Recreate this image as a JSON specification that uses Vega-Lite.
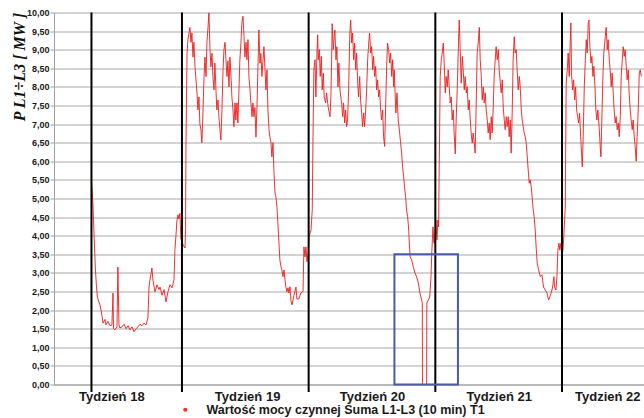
{
"$schema":"https://vega.github.io/schema/vega-lite/v6.json",
"width":590,"height":372,
"autosize":{"type":"none"},
"padding":{"left":54,"top":12.5,"right":0,"bottom":33.5},
"background":"white",
"config":{"view":{"stroke":null},"font":"Liberation Sans",
 "axisX":{"ticks":false,"grid":false,"domainColor":"#a0a0a0","domainWidth":1,"labelFont":"Liberation Sans","labelFontWeight":"bold","labelFontSize":13,"labelColor":"#1a1a1a","labelPadding":6,"labelFlush":false,"labelOverlap":false,"labelBound":false},
 "axisY":{"grid":true,"gridColor":"#a8a8a8","gridWidth":1.2,"domainColor":"#a0a0a0","tickColor":"#a0a0a0","tickSize":4,"labelPadding":1,"labelFont":"Liberation Sans","labelFontSize":9,"labelFontWeight":"bold","labelColor":"#1a1a1a","labelOverlap":false,"labelFlush":false,"titleFont":"Liberation Serif","titleFontStyle":"italic","titleFontWeight":"bold","titleFontSize":16,"titleColor":"#111111","titleAnchor":"end","titleX":-35,"titleY":0,"titleAngle":-90,"titleBaseline":"middle"}},
"datasets":{
"power":[
{"d":2.0,"v":5.45},{"d":2.08,"v":4.88},{"d":2.14,"v":4.07},{"d":2.22,"v":3.08},{"d":2.28,"v":2.62},{"d":2.33,"v":2.35},{"d":2.41,"v":2.22},{"d":2.47,"v":2.14},{"d":2.55,"v":1.95},{"d":2.64,"v":1.65},{"d":2.75,"v":1.75},{"d":2.80,"v":1.6},{"d":2.91,"v":1.7},{"d":3.02,"v":1.58},{"d":3.13,"v":1.6},{"d":3.19,"v":2.46},{"d":3.22,"v":1.5},{"d":3.30,"v":1.47},{"d":3.41,"v":1.55},{"d":3.46,"v":3.16},{"d":3.52,"v":1.6},{"d":3.57,"v":1.52},{"d":3.69,"v":1.55},{"d":3.80,"v":1.62},{"d":3.91,"v":1.5},{"d":4.02,"v":1.58},{"d":4.13,"v":1.47},{"d":4.24,"v":1.55},{"d":4.35,"v":1.42},{"d":4.46,"v":1.5},{"d":4.57,"v":1.55},{"d":4.68,"v":1.62},{"d":4.79,"v":1.58},{"d":4.90,"v":1.65},{"d":5.01,"v":1.6},{"d":5.12,"v":1.79},{"d":5.18,"v":2.62},{"d":5.23,"v":2.8},{"d":5.34,"v":3.13},{"d":5.40,"v":2.8},{"d":5.51,"v":2.49},{"d":5.62,"v":2.68},{"d":5.73,"v":2.55},{"d":5.79,"v":2.62},{"d":5.90,"v":2.4},{"d":6.01,"v":2.55},{"d":6.12,"v":2.22},{"d":6.23,"v":2.5},{"d":6.34,"v":2.68},{"d":6.45,"v":2.6},{"d":6.56,"v":2.8},{"d":6.61,"v":3.62},{"d":6.67,"v":4.0},{"d":6.72,"v":4.4},{"d":6.78,"v":4.56},{"d":6.83,"v":4.45},{"d":6.89,"v":4.6},{"d":6.94,"v":3.9},
{"d":7.0,"v":3.9},{"d":7.06,"v":3.75},{"d":7.17,"v":3.67},{"d":7.2,"v":4.2},{"d":7.22,"v":6.3},{"d":7.28,"v":8.9},{"d":7.33,"v":9.27},{"d":7.44,"v":9.6},{"d":7.50,"v":9.2},{"d":7.55,"v":9.45},{"d":7.61,"v":8.8},{"d":7.66,"v":9.2},{"d":7.72,"v":8.54},{"d":7.83,"v":7.84},{"d":7.88,"v":7.38},{"d":7.94,"v":7.73},{"d":7.99,"v":7.0},{"d":8.05,"v":6.84},{"d":8.10,"v":6.5},{"d":8.16,"v":7.3},{"d":8.22,"v":8.28},{"d":8.27,"v":8.8},{"d":8.33,"v":8.28},{"d":8.38,"v":9.2},{"d":8.44,"v":9.6},{"d":8.49,"v":9.99},{"d":8.55,"v":9.0},{"d":8.60,"v":8.54},{"d":8.66,"v":8.9},{"d":8.71,"v":8.28},{"d":8.77,"v":7.92},{"d":8.82,"v":8.64},{"d":8.88,"v":7.9},{"d":8.93,"v":7.38},{"d":8.99,"v":7.65},{"d":9.04,"v":7.2},{"d":9.10,"v":6.85},{"d":9.15,"v":6.57},{"d":9.21,"v":7.38},{"d":9.27,"v":8.46},{"d":9.32,"v":9.0},{"d":9.38,"v":9.2},{"d":9.43,"v":8.73},{"d":9.49,"v":8.28},{"d":9.54,"v":8.7},{"d":9.60,"v":8.0},{"d":9.65,"v":8.8},{"d":9.71,"v":8.28},{"d":9.76,"v":7.73},{"d":9.82,"v":7.38},{"d":9.87,"v":6.93},{"d":9.93,"v":7.57},{"d":9.98,"v":7.11},{"d":10.04,"v":7.57},{"d":10.09,"v":7.03},{"d":10.15,"v":7.92},{"d":10.20,"v":8.73},{"d":10.26,"v":9.18},{"d":10.31,"v":9.72},{"d":10.37,"v":9.9},{"d":10.43,"v":9.35},{"d":10.48,"v":8.8},{"d":10.54,"v":9.2},{"d":10.59,"v":8.73},{"d":10.65,"v":9.27},{"d":10.70,"v":8.28},{"d":10.76,"v":7.92},{"d":10.81,"v":7.57},{"d":10.87,"v":7.2},{"d":10.92,"v":7.57},{"d":10.98,"v":7.2},{"d":11.03,"v":7.45},{"d":11.09,"v":6.65},{"d":11.14,"v":7.38},{"d":11.20,"v":8.54},{"d":11.25,"v":9.53},{"d":11.31,"v":8.64},{"d":11.36,"v":8.9},{"d":11.42,"v":8.28},{"d":11.48,"v":8.73},{"d":11.53,"v":9.08},{"d":11.59,"v":8.46},{"d":11.64,"v":7.92},{"d":11.70,"v":8.46},{"d":11.75,"v":7.38},{"d":11.81,"v":6.85},{"d":11.86,"v":6.65},{"d":11.92,"v":6.5},{"d":11.97,"v":6.12},{"d":12.03,"v":6.5},{"d":12.08,"v":5.77},{"d":12.14,"v":5.15},{"d":12.19,"v":5.05},{"d":12.25,"v":4.77},{"d":12.30,"v":4.34},{"d":12.36,"v":3.8},{"d":12.41,"v":3.35},{"d":12.47,"v":3.17},{"d":12.52,"v":3.08},{"d":12.58,"v":2.9},{"d":12.64,"v":3.08},{"d":12.69,"v":2.82},{"d":12.75,"v":2.6},{"d":12.80,"v":2.49},{"d":12.86,"v":2.6},{"d":12.91,"v":2.46},{"d":12.97,"v":2.63},{"d":13.02,"v":2.27},{"d":13.08,"v":2.14},{"d":13.19,"v":2.4},{"d":13.30,"v":2.62},{"d":13.35,"v":2.3},{"d":13.46,"v":2.3},{"d":13.57,"v":2.46},{"d":13.69,"v":2.5},{"d":13.74,"v":3.7},{"d":13.80,"v":3.43},{"d":13.85,"v":3.7},{"d":13.91,"v":3.3},{"d":13.96,"v":3.5},
{"d":14.02,"v":3.97},{"d":14.13,"v":4.15},{"d":14.20,"v":4.69},{"d":14.24,"v":6.66},{"d":14.29,"v":8.46},{"d":14.35,"v":8.73},{"d":14.40,"v":7.73},{"d":14.46,"v":8.91},{"d":14.50,"v":9.4},{"d":14.53,"v":8.73},{"d":14.59,"v":9.0},{"d":14.64,"v":8.28},{"d":14.70,"v":8.82},{"d":14.75,"v":7.92},{"d":14.81,"v":8.37},{"d":14.86,"v":7.73},{"d":14.94,"v":7.57},{"d":14.99,"v":7.84},{"d":15.08,"v":7.46},{"d":15.18,"v":7.2},{"d":15.23,"v":7.73},{"d":15.27,"v":8.73},{"d":15.30,"v":9.7},{"d":15.36,"v":9.0},{"d":15.41,"v":9.35},{"d":15.45,"v":9.53},{"d":15.51,"v":8.73},{"d":15.56,"v":9.08},{"d":15.62,"v":8.0},{"d":15.67,"v":8.64},{"d":15.73,"v":7.92},{"d":15.82,"v":7.57},{"d":15.88,"v":7.2},{"d":15.93,"v":7.57},{"d":15.99,"v":7.03},{"d":16.04,"v":7.38},{"d":16.10,"v":6.93},{"d":16.15,"v":7.11},{"d":16.21,"v":7.92},{"d":16.27,"v":9.35},{"d":16.32,"v":9.8},{"d":16.38,"v":9.18},{"d":16.43,"v":9.45},{"d":16.49,"v":8.73},{"d":16.54,"v":9.18},{"d":16.60,"v":8.46},{"d":16.65,"v":8.91},{"d":16.71,"v":8.1},{"d":16.76,"v":7.73},{"d":16.82,"v":8.28},{"d":16.87,"v":7.65},{"d":16.93,"v":7.3},{"d":16.98,"v":6.93},{"d":17.04,"v":7.3},{"d":17.09,"v":6.93},{"d":17.15,"v":7.38},{"d":17.20,"v":7.84},{"d":17.26,"v":8.73},{"d":17.32,"v":9.18},{"d":17.37,"v":9.45},{"d":17.43,"v":8.91},{"d":17.48,"v":9.08},{"d":17.54,"v":8.46},{"d":17.59,"v":8.82},{"d":17.65,"v":8.28},{"d":17.70,"v":8.55},{"d":17.76,"v":7.92},{"d":17.81,"v":8.19},{"d":17.87,"v":7.73},{"d":17.92,"v":7.92},{"d":17.98,"v":7.38},{"d":18.03,"v":7.11},{"d":18.09,"v":7.38},{"d":18.14,"v":6.66},{"d":18.20,"v":6.4},{"d":18.25,"v":7.38},{"d":18.31,"v":8.55},{"d":18.36,"v":9.18},{"d":18.42,"v":9.0},{"d":18.48,"v":8.64},{"d":18.53,"v":8.91},{"d":18.59,"v":8.28},{"d":18.64,"v":8.73},{"d":18.70,"v":8.0},{"d":18.73,"v":8.46},{"d":18.77,"v":7.92},{"d":18.82,"v":7.3},{"d":18.88,"v":7.84},{"d":18.95,"v":7.11},{"d":19.03,"v":6.76},{"d":19.08,"v":6.49},{"d":19.14,"v":6.22},{"d":19.19,"v":5.85},{"d":19.25,"v":5.58},{"d":19.30,"v":5.31},{"d":19.36,"v":5.04},{"d":19.41,"v":4.69},{"d":19.47,"v":4.51},{"d":19.53,"v":4.15},{"d":19.56,"v":3.8},{"d":19.61,"v":3.43},{"d":19.69,"v":3.35},{"d":19.78,"v":3.17},{"d":19.87,"v":3.0},{"d":19.97,"v":2.89},{"d":20.06,"v":2.73},{"d":20.15,"v":2.46},{"d":20.24,"v":2.27},{"d":20.28,"v":2.2},{"d":20.29,"v":0},{"d":20.52,"v":0},{"d":20.53,"v":2.19},{"d":20.61,"v":2.27},{"d":20.69,"v":2.35},{"d":20.76,"v":2.89},{"d":20.81,"v":3.61},{"d":20.87,"v":4.24},{"d":20.92,"v":3.8},
{"d":20.96,"v":3.8},{"d":21.03,"v":4.42},{"d":21.09,"v":3.89},{"d":21.14,"v":4.42},{"d":21.18,"v":4.24},{"d":21.22,"v":6.04},{"d":21.27,"v":8.28},{"d":21.33,"v":8.73},{"d":21.38,"v":8.91},{"d":21.44,"v":9.18},{"d":21.49,"v":8.64},{"d":21.55,"v":7.84},{"d":21.60,"v":8.28},{"d":21.66,"v":8.0},{"d":21.71,"v":8.46},{"d":21.77,"v":8.0},{"d":21.82,"v":7.57},{"d":21.88,"v":7.73},{"d":21.93,"v":7.11},{"d":21.99,"v":7.38},{"d":22.04,"v":6.76},{"d":22.10,"v":6.2},{"d":22.15,"v":7.11},{"d":22.21,"v":7.92},{"d":22.27,"v":9.0},{"d":22.32,"v":9.8},{"d":22.38,"v":8.91},{"d":22.43,"v":8.1},{"d":22.49,"v":8.82},{"d":22.54,"v":8.46},{"d":22.60,"v":7.92},{"d":22.65,"v":8.28},{"d":22.71,"v":7.84},{"d":22.76,"v":8.0},{"d":22.82,"v":7.38},{"d":22.87,"v":7.65},{"d":22.93,"v":7.11},{"d":22.98,"v":6.76},{"d":23.04,"v":6.49},{"d":23.09,"v":6.76},{"d":23.15,"v":6.49},{"d":23.20,"v":6.22},{"d":23.26,"v":7.57},{"d":23.31,"v":8.91},{"d":23.37,"v":9.18},{"d":23.43,"v":9.6},{"d":23.48,"v":8.73},{"d":23.54,"v":8.28},{"d":23.59,"v":7.65},{"d":23.65,"v":8.0},{"d":23.70,"v":7.57},{"d":23.76,"v":7.84},{"d":23.81,"v":7.38},{"d":23.87,"v":7.11},{"d":23.92,"v":6.76},{"d":23.98,"v":7.03},{"d":24.03,"v":6.58},{"d":24.09,"v":7.2},{"d":24.14,"v":6.76},{"d":24.20,"v":7.46},{"d":24.25,"v":8.28},{"d":24.31,"v":8.73},{"d":24.36,"v":9.08},{"d":24.42,"v":8.73},{"d":24.48,"v":9.0},{"d":24.53,"v":8.46},{"d":24.59,"v":8.1},{"d":24.64,"v":7.84},{"d":24.70,"v":8.19},{"d":24.75,"v":7.46},{"d":24.81,"v":7.11},{"d":24.86,"v":6.85},{"d":24.92,"v":7.2},{"d":24.97,"v":6.93},{"d":25.03,"v":7.2},{"d":25.08,"v":6.66},{"d":25.14,"v":7.11},{"d":25.19,"v":6.22},{"d":25.25,"v":7.38},{"d":25.30,"v":8.73},{"d":25.36,"v":9.35},{"d":25.41,"v":8.91},{"d":25.47,"v":9.0},{"d":25.52,"v":8.46},{"d":25.58,"v":7.92},{"d":25.64,"v":8.28},{"d":25.69,"v":8.0},{"d":25.75,"v":7.38},{"d":25.80,"v":7.11},{"d":25.86,"v":6.93},{"d":25.91,"v":6.76},{"d":25.97,"v":6.66},{"d":26.02,"v":6.49},{"d":26.08,"v":6.12},{"d":26.13,"v":5.77},{"d":26.19,"v":5.41},{"d":26.24,"v":5.5},{"d":26.30,"v":5.31},{"d":26.35,"v":5.04},{"d":26.41,"v":4.69},{"d":26.46,"v":4.51},{"d":26.52,"v":4.15},{"d":26.57,"v":3.7},{"d":26.63,"v":3.26},{"d":26.71,"v":3.08},{"d":26.80,"v":2.9},{"d":26.89,"v":2.95},{"d":26.98,"v":2.62},{"d":27.07,"v":2.54},{"d":27.17,"v":2.46},{"d":27.26,"v":2.27},{"d":27.32,"v":2.35},{"d":27.40,"v":2.46},{"d":27.48,"v":2.62},{"d":27.55,"v":2.9},{"d":27.59,"v":2.62},{"d":27.66,"v":2.54},{"d":27.72,"v":2.9},{"d":27.77,"v":3.61},{"d":27.83,"v":3.8},{"d":27.88,"v":3.61},{"d":27.94,"v":3.8},{"d":28.01,"v":3.52},
{"d":28.05,"v":3.6},{"d":28.10,"v":4.0},{"d":28.18,"v":4.77},{"d":28.23,"v":8.1},{"d":28.29,"v":8.46},{"d":28.34,"v":8.91},{"d":28.40,"v":8.28},{"d":28.45,"v":9.18},{"d":28.49,"v":9.72},{"d":28.53,"v":8.28},{"d":28.59,"v":7.92},{"d":28.64,"v":8.19},{"d":28.70,"v":7.65},{"d":28.75,"v":8.0},{"d":28.81,"v":7.38},{"d":28.86,"v":7.2},{"d":28.92,"v":7.03},{"d":28.97,"v":7.3},{"d":29.03,"v":6.66},{"d":29.08,"v":6.22},{"d":29.12,"v":5.85},{"d":29.17,"v":6.66},{"d":29.23,"v":8.0},{"d":29.28,"v":8.64},{"d":29.34,"v":9.27},{"d":29.39,"v":8.91},{"d":29.45,"v":9.72},{"d":29.49,"v":9.8},{"d":29.54,"v":9.08},{"d":29.60,"v":8.64},{"d":29.65,"v":8.82},{"d":29.71,"v":8.28},{"d":29.76,"v":8.55},{"d":29.82,"v":8.0},{"d":29.87,"v":7.38},{"d":29.93,"v":7.11},{"d":29.98,"v":7.38},{"d":30.06,"v":6.85},{"d":30.11,"v":6.4},{"d":30.15,"v":6.12},{"d":30.20,"v":7.11},{"d":30.26,"v":8.28},{"d":30.31,"v":8.91},{"d":30.39,"v":9.35},{"d":30.44,"v":9.6},{"d":30.50,"v":9.0},{"d":30.55,"v":9.27},{"d":30.61,"v":8.73},{"d":30.66,"v":8.46},{"d":30.72,"v":8.0},{"d":30.77,"v":8.37},{"d":30.83,"v":7.84},{"d":30.88,"v":7.38},{"d":30.94,"v":7.03},{"d":30.99,"v":7.2},{"d":31.05,"v":6.85},{"d":31.11,"v":7.03},{"d":31.16,"v":6.66},{"d":31.22,"v":7.2},{"d":31.27,"v":8.28},{"d":31.33,"v":8.73},{"d":31.38,"v":9.08},{"d":31.44,"v":8.82},{"d":31.49,"v":9.0},{"d":31.55,"v":8.55},{"d":31.60,"v":8.19},{"d":31.66,"v":8.46},{"d":31.71,"v":7.84},{"d":31.77,"v":7.38},{"d":31.82,"v":7.11},{"d":31.88,"v":6.85},{"d":31.93,"v":7.11},{"d":31.99,"v":6.66},{"d":32.04,"v":6.4},{"d":32.10,"v":6.0},{"d":32.15,"v":6.66},{"d":32.21,"v":7.38},{"d":32.27,"v":8.37},{"d":32.32,"v":8.46},{"d":32.38,"v":8.28}
],
"weeks":[{"d":2},{"d":7},{"d":14},{"d":21},{"d":28}],
"box":[{"d":18.74,"d2":22.25,"v":0,"v2":3.5}]
},
"layer":[
{"data":{"name":"power"},
 "mark":{"type":"line","strokeWidth":1,"clip":true,"opacity":0.9},
 "encoding":{
  "x":{"field":"d","type":"quantitative","scale":{"domain":[-0.07,32.53],"nice":false,"zero":false},
   "axis":{"values":[3.1,10.6,17.5,24.5,30.5],"labelExpr":"datum.value < 7 ? 'Tydzień 18' : datum.value < 14 ? 'Tydzień 19' : datum.value < 21 ? 'Tydzień 20' : datum.value < 28 ? 'Tydzień 21' : 'Tydzień 22'","title":null}},
  "y":{"field":"v","type":"quantitative","scale":{"domain":[0,10],"nice":false,"zero":false},
   "axis":{"values":[0,0.5,1,1.5,2,2.5,3,3.5,4,4.5,5,5.5,6,6.5,7,7.5,8,8.5,9,9.5,10],"labelExpr":"replace(format(datum.value,'.2f'),'.',',')","title":"P L1÷L3 [ MW ]"}},
  "color":{"datum":"Wartość mocy czynnej Suma L1-L3 (10 min) T1","type":"nominal","scale":{"range":["#ee1c1c"]},
   "legend":{"orient":"none","legendX":125,"legendY":391,"title":null,"padding":0,"symbolType":"circle","symbolSize":18,"symbolFillColor":"#ee1c1c","symbolStrokeColor":"#ee1c1c","symbolStrokeWidth":0,"labelOffset":15,"labelLimit":500,"labelFont":"Liberation Sans","labelFontSize":12.5,"labelFontWeight":"bold","labelColor":"#1a1a1a","direction":"horizontal",
    "encode":{"symbols":{"enter":{"fill":{"value":"#ee1c1c"}},"update":{"fill":{"value":"#ee1c1c"},"stroke":{"value":"#ee1c1c"},"strokeWidth":{"value":0},"opacity":{"value":1}}}}}}
 }},
{"data":{"name":"weeks"},
 "mark":{"type":"rule","color":"#000000","strokeWidth":2,"clip":false},
 "encoding":{
  "x":{"field":"d","type":"quantitative",
   "axis":{"values":[3.1,10.6,17.5,24.5,30.5],"labelExpr":"datum.value < 7 ? 'Tydzień 18' : datum.value < 14 ? 'Tydzień 19' : datum.value < 21 ? 'Tydzień 20' : datum.value < 28 ? 'Tydzień 21' : 'Tydzień 22'","title":null}},
  "y":{"datum":-0.2,"type":"quantitative",
   "axis":{"values":[0,0.5,1,1.5,2,2.5,3,3.5,4,4.5,5,5.5,6,6.5,7,7.5,8,8.5,9,9.5,10],"labelExpr":"replace(format(datum.value,'.2f'),'.',',')","title":"P L1÷L3 [ MW ]"}},
  "y2":{"datum":10}}},
{"data":{"name":"box"},
 "mark":{"type":"rect","filled":false,"stroke":"#4b5ba6","strokeWidth":2,"clip":false},
 "encoding":{
  "x":{"field":"d","type":"quantitative",
   "axis":{"values":[3.1,10.6,17.5,24.5,30.5],"labelExpr":"datum.value < 7 ? 'Tydzień 18' : datum.value < 14 ? 'Tydzień 19' : datum.value < 21 ? 'Tydzień 20' : datum.value < 28 ? 'Tydzień 21' : 'Tydzień 22'","title":null}},
  "x2":{"field":"d2"},
  "y":{"field":"v","type":"quantitative",
   "axis":{"values":[0,0.5,1,1.5,2,2.5,3,3.5,4,4.5,5,5.5,6,6.5,7,7.5,8,8.5,9,9.5,10],"labelExpr":"replace(format(datum.value,'.2f'),'.',',')","title":"P L1÷L3 [ MW ]"}},
  "y2":{"field":"v2"}}}
]
}
